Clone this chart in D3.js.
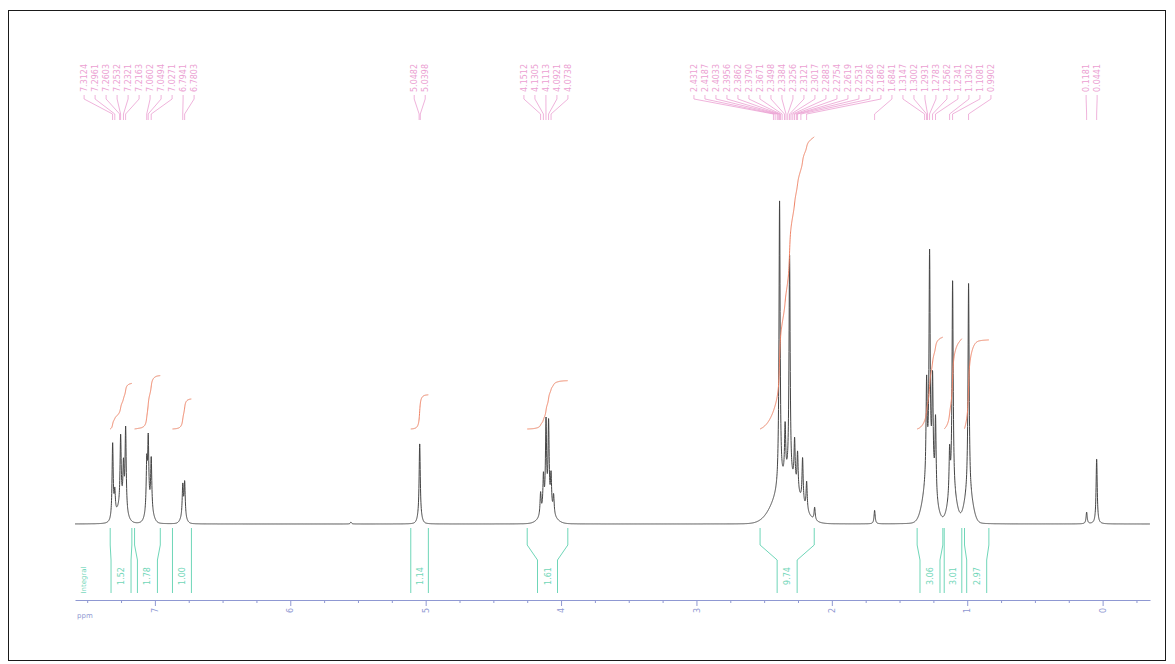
<!DOCTYPE html>
<html><head><meta charset="utf-8">
<script src="https://cdn.jsdelivr.net/npm/d3@7"></script>
<style>
html,body{margin:0;padding:0;background:#fff;}
svg{display:block;font-family:"DejaVu Sans",sans-serif;}
</style></head><body>
<svg id="chart" width="1175" height="664"></svg>
<script>
// ---- chemical shift axis (ppm) ----
const shiftRange = [7.59, -0.35];
const majorTicks = [7, 6, 5, 4, 3, 2, 1, 0];
const minorTicks = [7.5, 7.25, 6.75, 6.5, 6.25, 5.75, 5.5, 5.25, 4.75, 4.5, 4.25, 3.75, 3.5, 3.25,
                    2.75, 2.5, 2.25, 1.75, 1.5, 1.25, 0.75, 0.5, 0.25, -0.25];

// ---- resolved lines: shift (ppm) and intensity (% of tallest line) ----
const linePpm = [7.312, 7.296, 7.253, 7.232, 7.216, 7.060, 7.049, 7.027, 6.794, 6.780,
                 5.552, 5.044,
                 4.151, 4.130, 4.111, 4.092, 4.074, 4.055,
                 2.386, 2.345, 2.312, 2.275, 2.253, 2.216, 2.186, 2.127,
                 1.684,
                 1.300, 1.278, 1.256, 1.234, 1.130, 1.108, 0.990,
                 0.118, 0.044];
const lineHeight = [23.5, 7.0, 22.0, 13.0, 26.0, 15.0, 21.5, 16.5, 10.0, 11.0,
                    0.6, 23.5,
                    7.0, 11.0, 27.5, 27.0, 11.0, 6.0,
                    89.0, 16.0, 70.0, 14.0, 12.0, 14.0, 9.0, 4.0,
                    4.2,
                    30.0, 68.0, 31.0, 24.0, 14.0, 66.0, 65.5,
                    3.6, 20.2];
const lineHalfWidth = 0.005;

// ---- broad underlying components ----
const broadPpm = [7.25, 7.04, 6.79, 5.044, 4.10, 2.33, 1.28, 1.11, 0.99];
const broadHeight = [4.5, 3.5, 1.5, 1.5, 3.0, 13.0, 14.0, 9.0, 9.0];
const broadSigma = [0.035, 0.025, 0.02, 0.015, 0.05, 0.09, 0.04, 0.03, 0.03];

// ---- integrated regions ----
const integralFrom = [7.33, 7.15, 6.87, 5.11, 4.25, 2.53, 1.37, 1.17, 1.02];
const integralTo = [7.17, 6.96, 6.73, 4.98, 3.95, 2.13, 1.18, 1.04, 0.84];
const integralValues = [1.52, 1.78, 1.00, 1.14, 1.61, 9.74, 3.06, 3.01, 2.97];

// ---- picked peak labels, grouped by multiplet ----
const peakGroups = [
  [7.3124, 7.2961, 7.2603, 7.2532, 7.2321, 7.2163, 7.0602, 7.0494, 7.0271, 6.7941, 6.7803],
  [5.0482, 5.0398],
  [4.1512, 4.1305, 4.1113, 4.0921, 4.0738],
  [2.4312, 2.4187, 2.4033, 2.3956, 2.3862, 2.3790, 2.3671, 2.3498, 2.3384, 2.3256, 2.3121,
   2.3017, 2.2883, 2.2754, 2.2619, 2.2531, 2.2286, 2.1862],
  [1.6841],
  [1.3147, 1.3002, 1.2931, 1.2783, 1.2562, 1.2341, 1.1302, 1.1081, 0.9902],
  [0.1181, 0.0441]
];

const svg = d3.select("#chart");

svg.append("rect").attr("x", 8.5).attr("y", 10.5).attr("width", 1157).attr("height", 650)
  .attr("fill", "#fff").attr("stroke", "#1a1a1a").attr("stroke-width", 1);

const x = d3.scaleLinear().domain(shiftRange).range([75, 1150]);
const y = d3.scaleLinear().domain([0, 100]).range([524, 202]);
const integralScale = d3.scaleLinear().domain([0, 1]).range([0, 30]);

function intensity(p) {
  let s = 0;
  const w2 = lineHalfWidth * lineHalfWidth;
  for (let i = 0; i < linePpm.length; i++) {
    const d = p - linePpm[i];
    s += lineHeight[i] * w2 / (d * d + w2);
  }
  for (let i = 0; i < broadPpm.length; i++) {
    const d = p - broadPpm[i];
    s += broadHeight[i] * Math.exp(-d * d / (2 * broadSigma[i] * broadSigma[i]));
  }
  return s;
}

// ---- spectrum trace ----
const step = 0.0008;
const samples = d3.range(shiftRange[0], shiftRange[1], -step).map(p => [p, intensity(p)]);
const line = d3.line().x(d => x(d[0])).y(d => y(d[1]));
svg.append("path").datum(samples).attr("d", line)
  .attr("fill", "none").attr("stroke", "#444").attr("stroke-width", 1);

// ---- integral curves ----
const integralStart = y(0) - 95;
const integralColor = "#ef8062";
integralFrom.forEach((from, i) => {
  const to = integralTo[i];
  const pts = d3.range(from, to, -step);
  let acc = 0;
  const cum = pts.map(p => { acc += intensity(p); return acc; });
  const total = acc;
  const curve = pts.map((p, k) => [x(p), integralStart - integralScale(integralValues[i] * cum[k] / total)]);
  svg.append("path").datum(curve).attr("d", d3.line())
    .attr("fill", "none").attr("stroke", integralColor).attr("stroke-width", 1);
});

// ---- integral region brackets below the baseline ----
const green = "#6fd6b8";
const gBr = svg.append("g").attr("stroke", green).attr("fill", "none").attr("stroke-width", 1);
const y0 = y(0) + 4, y1 = 545, y2 = 560, y3 = 593;
integralFrom.forEach((from, i) => {
  const xl = x(from), xr = x(integralTo[i]);
  const cx = (xl + xr) / 2;
  const bw = Math.min(xr - xl, 20);
  const bl = cx - bw / 2, br = cx + bw / 2;
  gBr.append("path").attr("d", `M${xl},${y0}L${xl},${y1}L${bl},${y2}L${bl},${y3}`);
  gBr.append("path").attr("d", `M${xr},${y0}L${xr},${y1}L${br},${y2}L${br},${y3}`);
  svg.append("text")
    .attr("transform", `translate(${cx + 3},${576}) rotate(-90)`)
    .attr("text-anchor", "middle").attr("font-size", 8).attr("fill", green)
    .text(integralValues[i].toFixed(2));
});
svg.append("text").attr("transform", "translate(86,580) rotate(-90)")
  .attr("text-anchor", "middle").attr("font-size", 7).attr("fill", green).text("Integral");

// ---- peak labels with leader lines ----
const pink = "#eb9fd2";
const spacing = 11;
let lastX = -Infinity;
const labelLayer = svg.append("g");
peakGroups.forEach(group => {
  const px = group.map(p => x(p));
  const center = d3.mean(px);
  const start = center - (group.length - 1) * spacing / 2;
  group.forEach((p, k) => {
    const lx = Math.max(start + k * spacing, lastX + spacing);
    lastX = lx;
    const tx = x(p);
    labelLayer.append("text")
      .attr("transform", `translate(${lx + 3},${92}) rotate(-90)`)
      .attr("text-anchor", "start").attr("font-size", 8).attr("fill", pink)
      .text(p.toFixed(4));
    labelLayer.append("path")
      .attr("d", `M${lx},${95}L${lx},${99}L${tx},${114}L${tx},${120}`)
      .attr("fill", "none").attr("stroke", pink).attr("stroke-width", 0.8);
  });
});

// ---- ppm axis ----
const axisColor = "#8f98d2";
const axisG = svg.append("g").attr("transform", "translate(0,600)");
axisG.call(d3.axisBottom(x).tickValues(minorTicks).tickSize(3).tickSizeOuter(0).tickFormat(""));
const majorG = svg.append("g").attr("transform", "translate(0,600)");
majorG.call(d3.axisBottom(x).tickValues(majorTicks).tickSize(6).tickSizeOuter(0).tickFormat(d3.format("d")));
majorG.select(".domain").remove();
[axisG, majorG].forEach(g => {
  g.selectAll("path,line").attr("stroke", axisColor);
});
majorG.selectAll("text")
  .attr("transform", "rotate(-90)").attr("x", -8).attr("y", 0).attr("dy", "0.32em")
  .attr("text-anchor", "end").attr("fill", axisColor).attr("font-size", 8)
  .attr("font-family", "DejaVu Sans, sans-serif");
svg.append("text").attr("x", 77).attr("y", 618).attr("font-size", 7)
  .attr("fill", axisColor).text("ppm");
</script>
</body></html>
